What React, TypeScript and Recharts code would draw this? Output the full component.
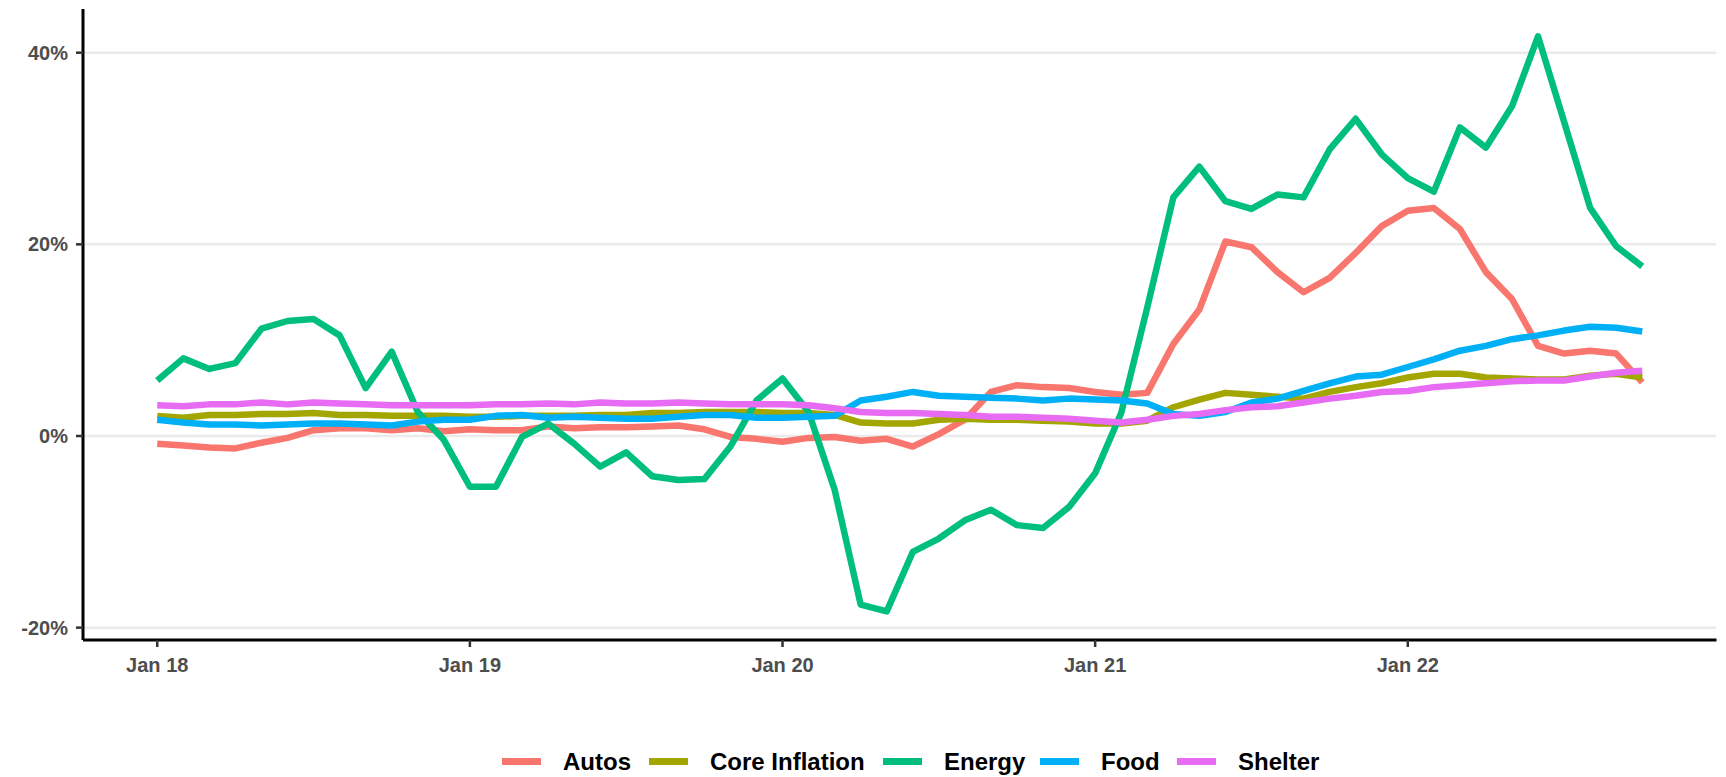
import { LineChart, Line, XAxis, YAxis, ReferenceLine } from 'recharts';

// monthly, Jan 2018 .. Oct 2022 (year-over-year % change)
const months = Array.from({ length: 58 }, (_, i) => i);

const autos = [
  -0.8, -1.0, -1.2, -1.3, -0.7, -0.2, 0.6, 0.8, 0.8, 0.6, 0.8, 0.5,
  0.7, 0.6, 0.6, 1.0, 0.8, 0.9, 0.9, 1.0, 1.1, 0.7, -0.1, -0.3,
  -0.6, -0.2, -0.1, -0.5, -0.3, -1.1, 0.2, 1.7, 4.6, 5.3, 5.1, 5.0,
  4.6, 4.3, 4.5, 9.6, 13.2, 20.3, 19.7, 17.1, 15.0, 16.5, 19.1, 21.9,
  23.5, 23.8, 21.6, 17.1, 14.3, 9.4, 8.6, 8.9, 8.6, 5.6,
];
const core = [
  2.1, 1.9, 2.2, 2.2, 2.3, 2.3, 2.4, 2.2, 2.2, 2.1, 2.1, 2.1,
  2.0, 2.0, 2.1, 2.1, 2.1, 2.2, 2.2, 2.4, 2.4, 2.5, 2.5, 2.5,
  2.4, 2.4, 2.2, 1.4, 1.3, 1.3, 1.7, 1.8, 1.7, 1.7, 1.6, 1.5,
  1.3, 1.3, 1.6, 3.0, 3.8, 4.5, 4.3, 4.1, 3.9, 4.6, 5.1, 5.5,
  6.1, 6.5, 6.5, 6.1, 6.0, 5.9, 5.9, 6.3, 6.5, 6.1,
];
const energy = [
  5.8, 8.1, 7.0, 7.6, 11.2, 12.0, 12.2, 10.5, 5.0, 8.8, 2.5, -0.4,
  -5.3, -5.3, -0.1, 1.3, -0.8, -3.2, -1.7, -4.2, -4.6, -4.5, -1.1, 3.7,
  6.0, 2.5, -5.6, -17.6, -18.3, -12.1, -10.7, -8.8, -7.7, -9.3, -9.6, -7.4,
  -3.9, 2.4, 13.4, 24.9, 28.1, 24.5, 23.7, 25.2, 24.9, 29.9, 33.1, 29.4,
  26.9, 25.5, 32.2, 30.1, 34.4, 41.7, 32.8, 23.8, 19.8, 17.7,
];
const food = [
  1.7, 1.4, 1.2, 1.2, 1.1, 1.2, 1.3, 1.3, 1.2, 1.1, 1.5, 1.7,
  1.7, 2.1, 2.2, 1.9, 2.0, 1.9, 1.8, 1.8, 2.0, 2.2, 2.2, 1.9,
  1.9, 2.0, 2.1, 3.7, 4.1, 4.6, 4.2, 4.1, 4.0, 3.9, 3.7, 3.9,
  3.8, 3.7, 3.4, 2.3, 2.1, 2.5, 3.5, 3.9, 4.7, 5.5, 6.2, 6.4,
  7.2, 8.0, 8.9, 9.4, 10.1, 10.5, 11.0, 11.4, 11.3, 10.9,
];
const shelter = [
  3.2, 3.1, 3.3, 3.3, 3.5, 3.3, 3.5, 3.4, 3.3, 3.2, 3.2, 3.2,
  3.2, 3.3, 3.3, 3.4, 3.3, 3.5, 3.4, 3.4, 3.5, 3.4, 3.3, 3.3,
  3.3, 3.2, 2.9, 2.5, 2.4, 2.4, 2.3, 2.2, 2.0, 2.0, 1.9, 1.8,
  1.6, 1.4, 1.7, 2.1, 2.3, 2.7, 3.0, 3.1, 3.5, 3.9, 4.2, 4.6,
  4.7, 5.1, 5.3, 5.5, 5.7, 5.8, 5.8, 6.2, 6.6, 6.8,
];

const xTicks = [0, 12, 24, 36, 48];
const xTickLabels = ['Jan 18', 'Jan 19', 'Jan 20', 'Jan 21', 'Jan 22'];
const yTicks = [-20, 0, 20, 40];

const series = [
  { key: 'autos', name: 'Autos', color: '#F8766D' },
  { key: 'core', name: 'Core Inflation', color: '#A3A500' },
  { key: 'energy', name: 'Energy', color: '#00BF7D' },
  { key: 'food', name: 'Food', color: '#00B0F6' },
  { key: 'shelter', name: 'Shelter', color: '#E76BF3' },
];

// legend key x positions (px), matched to the original ggplot legend
const legendKeyX = [502, 649, 883, 1040, 1177];

const data = months.map((t, i) => ({
  t,
  autos: autos[i],
  core: core[i],
  energy: energy[i],
  food: food[i],
  shelter: shelter[i],
}));

const FONT = '"Liberation Sans", Arial, sans-serif';
const tickStyle = { fill: '#4D4D4D', fontSize: 20, fontWeight: 700, fontFamily: FONT };

export default function App() {
  return (
    <div style={{ position: 'absolute', left: 0, top: 0, width: 1726, height: 777, background: '#fff', fontFamily: FONT }}>
      <LineChart
        width={1726}
        height={777}
        data={data}
        margin={{ top: 9, right: 9.5, bottom: 0, left: 0 }}
      >
        {/* major y grid only */}
        {yTicks.map((v) => (
          <ReferenceLine key={v} y={v} stroke="#EBEBEB" strokeWidth={2.5} ifOverflow="hidden" />
        ))}
        <XAxis
          dataKey="t"
          type="number"
          domain={[-2.85, 59.85]}
          ticks={xTicks}
          tickFormatter={(v: number) => xTickLabels[xTicks.indexOf(v)]}
          height={137}
          axisLine={{ stroke: '#000', strokeWidth: 3 }}
          tickLine={{ stroke: '#333', strokeWidth: 2.5 }}
          tickSize={7}
          tickMargin={11}
          tick={tickStyle}
          allowDataOverflow
        />
        <YAxis
          type="number"
          domain={[-21.29, 44.56]}
          ticks={yTicks}
          tickFormatter={(v: number) => `${v}%`}
          width={83}
          axisLine={{ stroke: '#000', strokeWidth: 3 }}
          tickLine={{ stroke: '#333', strokeWidth: 2.5 }}
          tickSize={7}
          tickMargin={8}
          tick={tickStyle}
          allowDataOverflow
        />
        {series.map((s) => (
          <Line
            key={s.key}
            type="linear"
            dataKey={s.key}
            name={s.name}
            stroke={s.color}
            strokeWidth={6.5}
            strokeLinejoin="round"
            dot={false}
            activeDot={false}
            isAnimationActive={false}
          />
        ))}
      </LineChart>

      {/* legend */}
      {series.map((s, i) => (
        <div
          key={s.key}
          style={{
            position: 'absolute',
            left: legendKeyX[i],
            top: 746.5,
            height: 30,
            display: 'flex',
            alignItems: 'center',
            fontSize: 24,
            fontWeight: 700,
            color: '#000',
            whiteSpace: 'nowrap',
          }}
        >
          <div style={{ width: 39, height: 7, background: s.color, marginRight: 22 }} />
          <span style={{ lineHeight: '30px' }}>{s.name}</span>
        </div>
      ))}
    </div>
  );
}
